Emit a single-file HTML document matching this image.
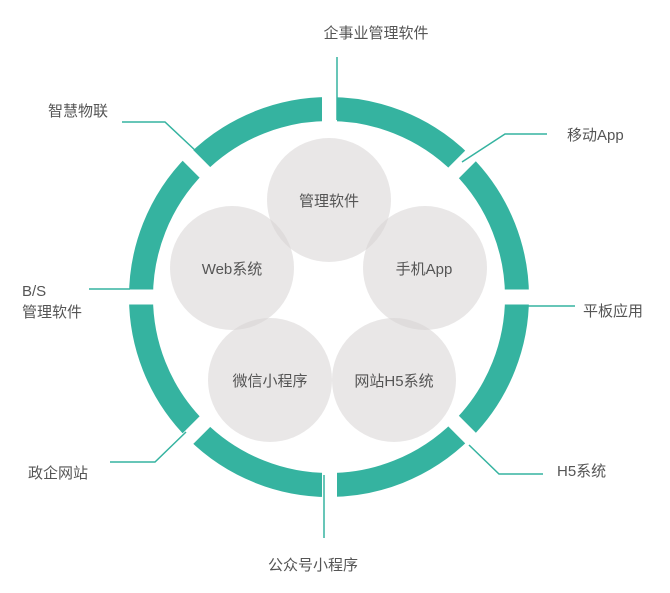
<!DOCTYPE html>
<html><head><meta charset="utf-8"><style>
html,body{margin:0;padding:0;background:#fff;width:670px;height:593px;overflow:hidden}
svg{display:block}
text{font-family:"Liberation Sans","Noto Sans CJK SC",sans-serif;font-size:15px;fill:#555}
</style></head><body>
<svg width="670" height="593" viewBox="0 0 670 593">
<circle cx="329" cy="297" r="188" fill="none" stroke="#35b3a0" stroke-width="24"/>
<g transform="translate(329.5,297)">
<rect x="-7.5" y="-215" width="15" height="430" fill="#fff"/>
<rect x="-7.5" y="-215" width="15" height="430" fill="#fff" transform="rotate(45)"/>
<rect x="-7.5" y="-215" width="15" height="430" fill="#fff" transform="rotate(90)"/>
<rect x="-7.5" y="-215" width="15" height="430" fill="#fff" transform="rotate(135)"/>
</g>
<g fill="none" stroke="#35b3a0" stroke-width="1.5">
<polyline points="337,57 337,120"/>
<polyline points="462,162 505,134 547,134"/>
<polyline points="122,122 165,122 197,152"/>
<polyline points="89,289 130,289"/>
<polyline points="512,306 575,306"/>
<polyline points="469,445 499,474 543,474"/>
<polyline points="324,475 324,538"/>
<polyline points="186,432 155,462 110,462"/>
</g>
<g fill="rgb(215,212,212)" fill-opacity="0.55">
<circle cx="329" cy="200" r="62"/>
<circle cx="232" cy="268" r="62"/>
<circle cx="425" cy="268" r="62"/>
<circle cx="270" cy="380" r="62"/>
<circle cx="394" cy="380" r="62"/>
</g>
<g text-anchor="middle">
<text x="329" y="206">管理软件</text>
<text x="232" y="274">Web系统</text>
<text x="424" y="274">手机App</text>
<text x="270" y="386">微信小程序</text>
<text x="394" y="386">网站H5系统</text>
<text x="376" y="38">企事业管理软件</text>
<text x="313" y="570">公众号小程序</text>
</g>
<text x="567" y="140">移动App</text>
<text x="48" y="116">智慧物联</text>
<text x="22" y="296">B/S</text>
<text x="22" y="317">管理软件</text>
<text x="583" y="316">平板应用</text>
<text x="557" y="476">H5系统</text>
<text x="28" y="478">政企网站</text>
</svg>
</body></html>
